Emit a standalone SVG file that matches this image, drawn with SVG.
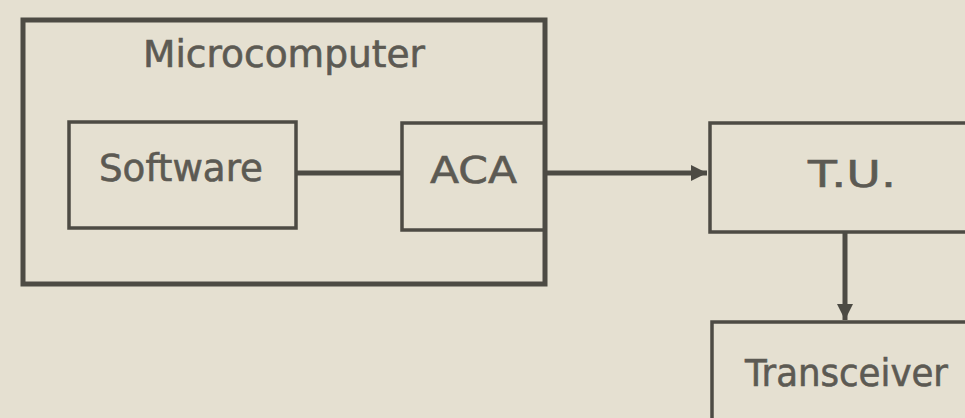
<svg xmlns="http://www.w3.org/2000/svg" width="965" height="418" viewBox="0 0 965 418">
<defs>
<style>
.bg{fill:#e5e0d1}
.box{fill:none;stroke:#4d4b44;stroke-width:3.5}
.outer{fill:none;stroke:#4d4b44;stroke-width:5}
.lbl{font-family:"DejaVu Sans",sans-serif;font-size:37px;fill:#5c5a53;stroke:#5c5a53;stroke-width:0.6}
.wire{fill:none;stroke:#4d4b44;stroke-width:5}
</style>
<marker id="ah" viewBox="0 0 10 10" refX="10" refY="5" markerWidth="3.8" markerHeight="3.2" orient="auto" markerUnits="strokeWidth">
<path d="M0,0 L10,5 L0,10 z" fill="#4d4b44"/>
</marker>
</defs>
<rect class="bg" x="0" y="0" width="965" height="418"/>
<g id="microcomputer">
<rect class="outer" x="23" y="20" width="522" height="264"/>
<text class="lbl" x="143" y="67" textLength="282" lengthAdjust="spacingAndGlyphs">Microcomputer</text>
</g>
<g id="software">
<rect class="box" x="69" y="122" width="227" height="106"/>
<text class="lbl" x="99" y="181" textLength="164" lengthAdjust="spacingAndGlyphs">Software</text>
</g>
<g id="aca">
<rect class="box" x="402" y="123" width="143" height="107"/>
<text class="lbl" x="430" y="183" textLength="87" lengthAdjust="spacingAndGlyphs">ACA</text>
</g>
<g id="tu">
<rect class="box" x="710" y="123" width="270" height="109"/>
<text class="lbl" x="808" y="187" textLength="88" lengthAdjust="spacingAndGlyphs">T.U.</text>
</g>
<g id="transceiver">
<rect class="box" x="712" y="322" width="270" height="120"/>
<text class="lbl" x="745" y="386" textLength="203" lengthAdjust="spacingAndGlyphs">Transceiver</text>
</g>
<g id="connectors">
<line class="wire" x1="296" y1="173" x2="402" y2="173"/>
<line class="wire" x1="547" y1="173" x2="707" y2="173" marker-end="url(#ah)"/>
<line class="wire" x1="845" y1="233" x2="845" y2="320" marker-end="url(#ah)"/>
</g>
</svg>
